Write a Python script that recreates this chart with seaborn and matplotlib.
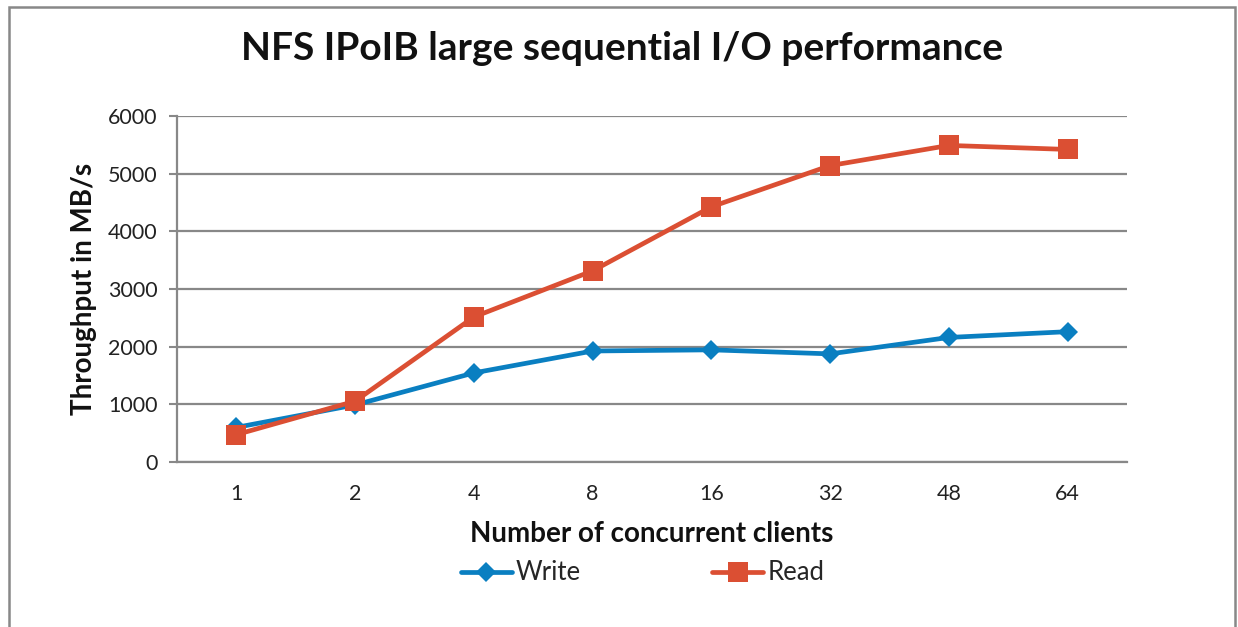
import pandas as pd
import seaborn as sns
import matplotlib.pyplot as plt
from matplotlib.patches import Rectangle

# Data
clients = ['1', '2', '4', '8', '16', '32', '48', '64']
write_mbs = [600, 990, 1545, 1925, 1945, 1875, 2160, 2260]
read_mbs = [475, 1055, 2515, 3315, 4425, 5140, 5490, 5420]

df = pd.DataFrame({
    'clients': clients * 2,
    'throughput': write_mbs + read_mbs,
    'series': ['Write'] * len(clients) + ['Read'] * len(clients),
})

sns.set_style('white')
plt.rcParams['font.family'] = ['Lato', 'DejaVu Sans']

fig = plt.figure(figsize=(12.38, 6.27), dpi=100)
ax = fig.add_axes([177 / 1238, 1 - 462 / 627, 950 / 1238, 346 / 627])

palette = {'Write': '#0A7FC1', 'Read': '#DB4F33'}
markers = {'Write': 'D', 'Read': 's'}
sizes = {'Write': 10, 'Read': 14}

for name in ['Write', 'Read']:
    sub = df[df['series'] == name]
    sns.lineplot(data=sub, x='clients', y='throughput', ax=ax, color=palette[name],
                 marker=markers[name], markersize=sizes[name], markeredgewidth=0,
                 linewidth=3.4, label=name, sort=False)

ax.set_xlim(-0.5, len(clients) - 0.5)
ax.set_ylim(0, 6000)
ax.set_yticks(range(0, 6001, 1000))
ax.grid(axis='y', color='#888888', linewidth=1.6)
ax.set_axisbelow(True)

# tick marks between categories, labels centred
ax.set_xticks(range(len(clients)))
ax.set_xticklabels(clients)
ax.set_xticks([i - 0.5 for i in range(len(clients) + 1)], minor=True)
ax.tick_params(axis='x', which='major', length=0, pad=16, labelsize=15.5, colors='#222222')
ax.tick_params(axis='x', which='minor', length=6, width=1.5, color='#888888', direction='out')
ax.tick_params(axis='y', length=6, width=1.5, color='#888888', direction='out', left=True,
               pad=8, labelsize=15.5, labelcolor='#222222')

for side in ['top', 'right']:
    ax.spines[side].set_visible(False)
for side in ['left', 'bottom']:
    ax.spines[side].set_color('#888888')
    ax.spines[side].set_linewidth(1.6)

ax.set_xlabel('Number of concurrent clients', fontsize=20, fontweight='bold', labelpad=12,
              color='#111111')
ax.set_ylabel('Throughput in MB/s', fontsize=20, fontweight='bold', labelpad=8,
              color='#111111')
fig.text(0.5025, 1 - 48 / 627, 'NFS IPoIB large sequential I/O performance',
         ha='center', va='center', fontsize=28, fontweight='bold', color='#111111')

ax.legend(loc='center', bbox_to_anchor=(0.49, (462 - 573) / 346), ncol=2, frameon=False,
          fontsize=18.5, handlelength=2.0, handletextpad=0.15, columnspacing=5.1)

# outer chart border
fig.patches.append(Rectangle((9 / 1238, -0.05), 1226 / 1238, 1.05 - 7 / 627,
                             transform=fig.transFigure, fill=False,
                             edgecolor='#888888', linewidth=1.8))

fig.savefig('out.png', dpi=100)
